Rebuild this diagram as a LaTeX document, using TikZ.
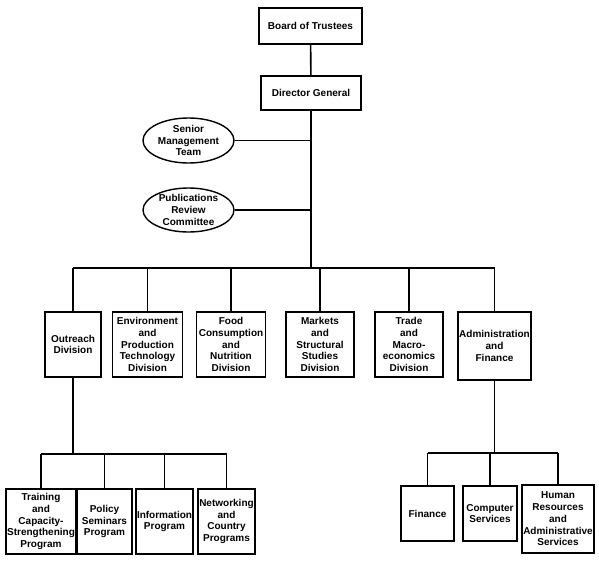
\documentclass[tikz,border=0pt]{standalone}
\usepackage{fontspec}
\setmainfont{Liberation Sans}
\usetikzlibrary{shapes.geometric}

\begin{document}
\begin{tikzpicture}[x=1pt, y=-1pt, font=\bfseries\fontsize{10}{11.8}\selectfont]

		% --- Stili ---
		\tikzset{
			unit/.style={draw=black, line width=1.6pt, align=center, inner sep=1pt},
			committee/.style={ellipse, draw=black, line width=1.4pt, align=center, inner sep=0pt},
			branch/.style={draw=black, line width=1.6pt}
		}

		% --- Cornice ---
		\useasboundingbox (0,0) rectangle (599,562);

		% --- Vertice ---
		\node[unit, minimum width=103pt, minimum height=36pt] (board) at (310.5,26) {Board of Trustees};
		\node[unit, minimum width=100pt, minimum height=34pt] (dg) at (311,93) {Director General};

		% --- Comitati ---
		\node[committee, minimum width=91pt, minimum height=45pt] (smt) at (188.5,140.5) {Senior\\Management\\Team};
		\node[committee, minimum width=91pt, minimum height=44pt] (prc) at (188.5,210) {Publications\\Review\\Committee};

		% --- Divisioni ---
		\node[unit, minimum width=56pt, minimum height=65pt] (outreach) at (73,344.5) {Outreach\\Division};
		\node[unit, minimum width=70pt, minimum height=65pt] (env) at (147.5,344.5) {Environment\\and\\Production\\Technology\\Division};
		\node[unit, minimum width=69pt, minimum height=65pt] (food) at (231,344.5) {Food\\Consumption\\and\\Nutrition\\Division};
		\node[unit, minimum width=68pt, minimum height=65pt] (markets) at (320,344.5) {Markets\\and\\Structural\\Studies\\Division};
		\node[unit, minimum width=68pt, minimum height=65pt] (trade) at (409,344.5) {Trade\\and\\Macro-\\economics\\Division};
		\node[unit, minimum width=71pt, minimum height=68pt] (admin) at (494.5,346) {Administration\\and\\Finance};

		% --- Programmi (Outreach) ---
		\node[unit, minimum width=66pt, minimum height=65pt] (training) at (41,521.5) {Training\\and\\Capacity-\\Strengthening\\Program};
		\node[unit, minimum width=55pt, minimum height=65pt] (policy) at (104.5,521.5) {Policy\\Seminars\\Program};
		\node[unit, minimum width=55pt, minimum height=65pt] (info) at (164.5,521.5) {Information\\Program};
		\node[unit, minimum width=55pt, minimum height=65pt] (networking) at (226.5,521.5) {Networking\\and\\Country\\Programs};

		% --- Servizi (Administration) ---
		\node[unit, minimum width=53pt, minimum height=55pt] (finance) at (427.5,513.5) {Finance};
		\node[unit, minimum width=54pt, minimum height=55pt] (computer) at (490,513.5) {Computer\\Services};
		\node[unit, minimum width=70pt, minimum height=68pt] (hr) at (558,519) {Human\\Resources\\and\\Administrative\\Services};

		% --- Linee di collegamento ---
		\coordinate (topbus) at (310,268);
		\coordinate (outbus) at (0,454);
		\coordinate (adminbus) at (0,453);

		\draw[branch] (board) -- (dg);
		\draw[branch] (dg.south) -- (dg.south |- topbus);
		\draw[branch] (smt.east) -- (smt.east -| dg.south);
		\draw[branch] (prc.east) -- (prc.east -| dg.south);

		\draw[branch] (outreach.north |- topbus) -- (admin.north |- topbus);
		\foreach \d in {outreach, env, food, markets, trade, admin}
			\draw[branch] (\d.north) -- (\d.north |- topbus);

		\draw[branch] (outreach.south) -- (outreach.south |- outbus);
		\draw[branch] (training.north |- outbus) -- (networking.north |- outbus);
		\foreach \p in {training, policy, info, networking}
			\draw[branch] (\p.north) -- (\p.north |- outbus);

		\draw[branch] (admin.south) -- (admin.south |- adminbus);
		\draw[branch] (finance.north |- adminbus) -- (hr.north |- adminbus);
		\foreach \s in {finance, computer, hr}
			\draw[branch] (\s.north) -- (\s.north |- adminbus);

	\end{tikzpicture}
\end{document}
